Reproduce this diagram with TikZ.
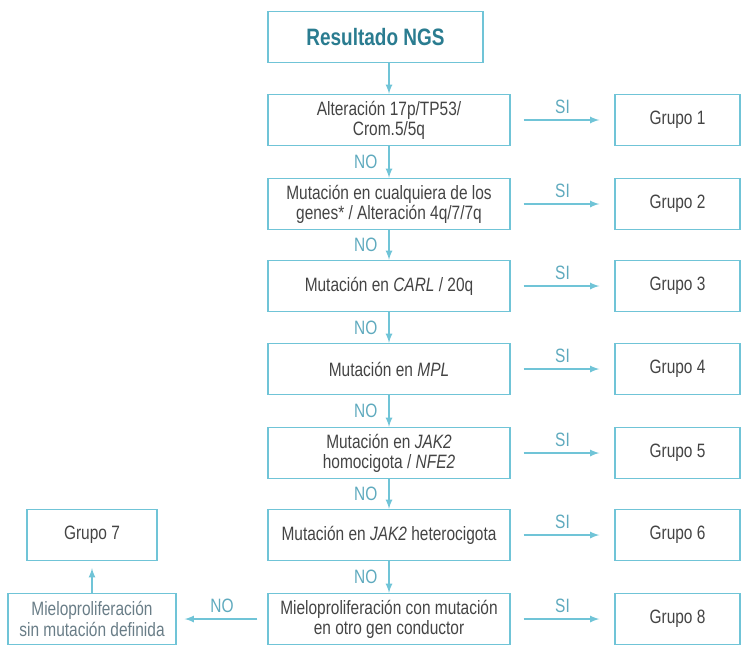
\documentclass[tikz,border=0pt]{standalone}
\usepackage{fontspec}
\setmainfont{Liberation Sans}[FakeStretch=0.8]
\definecolor{boxline}{RGB}{112,196,215}
\definecolor{txtgray}{RGB}{68,68,68}
\definecolor{titlecol}{RGB}{42,124,144}
\definecolor{lblcol}{RGB}{95,170,190}
\definecolor{softgray}{RGB}{105,125,135}

\tikzset{
  box/.style={draw=boxline, line width=0.8pt, minimum height=1.02cm,
    text=txtgray, align=center, font=\fontsize{11}{11.5}\selectfont},
  mainbox/.style={box, minimum width=4.84cm},
  grpbox/.style={box, minimum width=2.5cm},
  flow/.style={-latex, draw=boxline, line width=0.8pt},
  lbl/.style={text=lblcol, font=\fontsize{11}{12}\selectfont}
}

\begin{document}
\begin{tikzpicture}
    \useasboundingbox (0, 0) rectangle (14.84, -12.9);
    \node[box, minimum width=4.3cm, text=titlecol,
      font=\bfseries\fontsize{13.5}{15}\selectfont] (ngs) at (7.51, -0.74)
      {Resultado NGS};
    \node[mainbox] (alt) at (7.78, -2.40) {Alteración 17p/TP53/\\Crom.5/5q};
    \node[mainbox] (cual) at (7.78, -4.08)
      {Mutación en cualquiera de los\\genes* / Alteración 4q/7/7q};
    \node[mainbox] (carl) at (7.78, -5.72) {Mutación en \textit{CARL} / 20q};
    \node[mainbox] (mpl) at (7.78, -7.38) {Mutación en \textit{MPL}};
    \node[mainbox] (homo) at (7.78, -9.06)
      {Mutación en \textit{JAK2}\\homocigota / \textit{NFE2}};
    \node[mainbox] (hetero) at (7.78, -10.70)
      {Mutación en \textit{JAK2} heterocigota};
    \node[mainbox] (mielo) at (7.78, -12.38)
      {Mieloproliferación con mutación\\en otro gen conductor};
    \node[grpbox] (g1) at (13.55, -2.40) {Grupo 1};
    \node[grpbox] (g2) at (13.55, -4.08) {Grupo 2};
    \node[grpbox] (g3) at (13.55, -5.72) {Grupo 3};
    \node[grpbox] (g4) at (13.55, -7.38) {Grupo 4};
    \node[grpbox] (g5) at (13.55, -9.06) {Grupo 5};
    \node[grpbox] (g6) at (13.55, -10.70) {Grupo 6};
    \node[grpbox] (g8) at (13.55, -12.38) {Grupo 8};
    \node[box, minimum width=2.6cm] (g7) at (1.84, -10.70) {Grupo 7};
    \node[box, minimum width=3.36cm, text=softgray] (sinmut) at (1.84, -12.38)
      {Mieloproliferación\\sin mutación definida};
    % flecha de entrada
    \draw[flow] (ngs.south -| alt.north) -- (alt.north);
    % columna central: NO
    \draw[flow] (alt) -- node[lbl, left, xshift=-0.1cm] {NO} (cual);
    \draw[flow] (cual) -- node[lbl, left, xshift=-0.1cm] {NO} (carl);
    \draw[flow] (carl) -- node[lbl, left, xshift=-0.1cm] {NO} (mpl);
    \draw[flow] (mpl) -- node[lbl, left, xshift=-0.1cm] {NO} (homo);
    \draw[flow] (homo) -- node[lbl, left, xshift=-0.1cm] {NO} (hetero);
    \draw[flow] (hetero) -- node[lbl, left, xshift=-0.1cm] {NO} (mielo);
    % ramas SI
    \draw[flow, shorten <=0.26cm, shorten >=0.3cm] (alt) -- node[lbl, above] {SI} (g1);
    \draw[flow, shorten <=0.26cm, shorten >=0.3cm] (cual) -- node[lbl, above] {SI} (g2);
    \draw[flow, shorten <=0.26cm, shorten >=0.3cm] (carl) -- node[lbl, above] {SI} (g3);
    \draw[flow, shorten <=0.26cm, shorten >=0.3cm] (mpl) -- node[lbl, above] {SI} (g4);
    \draw[flow, shorten <=0.26cm, shorten >=0.3cm] (homo) -- node[lbl, above] {SI} (g5);
    \draw[flow, shorten <=0.26cm, shorten >=0.3cm] (hetero) -- node[lbl, above] {SI} (g6);
    \draw[flow, shorten <=0.26cm, shorten >=0.3cm] (mielo) -- node[lbl, above] {SI} (g8);
    % rama final
    \draw[flow, shorten <=0.2cm, shorten >=0.16cm] (mielo) -- node[lbl, above] {NO} (sinmut);
    \draw[flow, shorten >=0.14cm] (sinmut) -- (g7);
  \end{tikzpicture}
\end{document}
